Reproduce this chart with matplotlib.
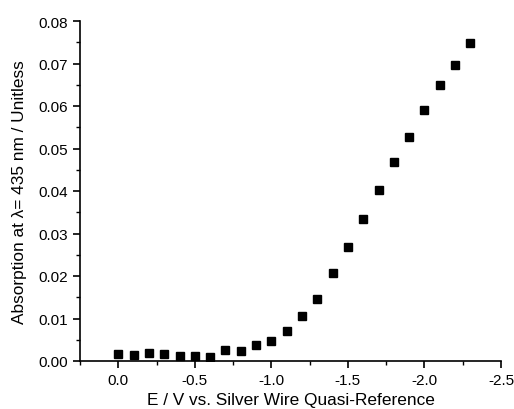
import matplotlib
matplotlib.use('Agg')
import matplotlib.pyplot as plt
from matplotlib.ticker import MultipleLocator

plt.rcParams['font.family'] = ['Liberation Sans', 'DejaVu Sans']

# potential (V) and absorption at 435 nm
potential = [0.0, -0.1, -0.2, -0.3, -0.4, -0.5, -0.6, -0.7, -0.8, -0.9, -1.0, -1.1,
             -1.2, -1.3, -1.4, -1.5, -1.6, -1.7, -1.8, -1.9, -2.0, -2.1, -2.2, -2.3]
absorption = [0.0017, 0.0015, 0.0019, 0.0016, 0.0012, 0.0012, 0.0009, 0.0026, 0.0024, 0.0037,
              0.0047, 0.0070, 0.0107, 0.0147, 0.0206, 0.0269, 0.0334, 0.0403, 0.0468, 0.0526,
              0.0590, 0.0650, 0.0696, 0.0748]

fig = plt.figure(figsize=(5.14, 4.10), dpi=100)
ax = fig.add_axes([80/514, 48/410, 421/514, 340/410])

ax.plot(potential, absorption, 's', color='black', markersize=5.2)

ax.set_xlim(0.25, -2.5)
ax.set_ylim(0.0, 0.08)
ax.xaxis.set_major_locator(MultipleLocator(0.5))
ax.xaxis.set_minor_locator(MultipleLocator(0.25))
ax.yaxis.set_major_locator(MultipleLocator(0.01))
ax.yaxis.set_minor_locator(MultipleLocator(0.005))
ax.xaxis.set_major_formatter(plt.FormatStrFormatter('%.1f'))
ax.yaxis.set_major_formatter(plt.FormatStrFormatter('%.2f'))

for s in ['top', 'right']:
    ax.spines[s].set_visible(False)
for s in ['left', 'bottom']:
    ax.spines[s].set_linewidth(1.2)

ax.tick_params(which='major', direction='out', length=5, width=1.2, labelsize=11)
ax.tick_params(which='minor', direction='out', length=3, width=1.0)

ax.set_xlabel('E / V vs. Silver Wire Quasi-Reference', fontsize=12.4, labelpad=4)
ax.set_ylabel('Absorption at λ= 435 nm / Unitless', fontsize=12.4, labelpad=8)

fig.savefig('out.png', dpi=100)
